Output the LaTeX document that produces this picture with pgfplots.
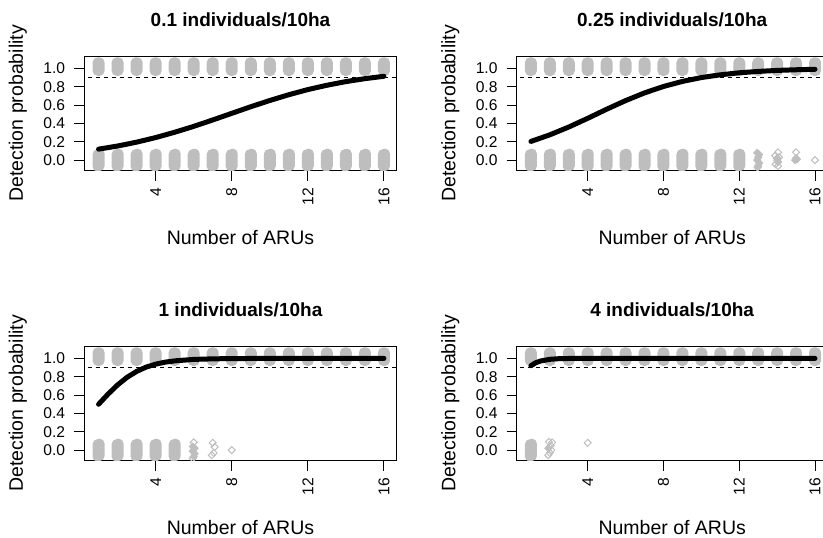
\documentclass[border=0pt]{standalone}
\usepackage{fontspec}
\setmainfont{Liberation Sans}
\usepackage{pgfplots}
\pgfplotsset{compat=1.18}

\definecolor{rgray}{RGB}{190,190,190}

% dense cloud of outcomes at one ARU count, drawn as a pill
% (lower level, y = 0): spans -11.5pt .. 11.5pt around the point
\pgfdeclareplotmark{bloblo}{%
  \pgfpathmoveto{\pgfqpoint{-6pt}{6pt}}%
  \pgfpatharc{180}{90}{5pt}%
  \pgfpathlineto{\pgfqpoint{1pt}{11.5pt}}%
  \pgfpatharc{90}{0}{5pt}%
  \pgfpathlineto{\pgfqpoint{6pt}{-6pt}}%
  \pgfpatharc{0}{-90}{5pt}%
  \pgfpathlineto{\pgfqpoint{-1pt}{-11.5pt}}%
  \pgfpatharc{-90}{-180}{5pt}%
  \pgfpathclose
  \pgfusepathqfill}
% upper level, y = 1: spans -7.5pt .. 11pt around the point
\pgfdeclareplotmark{blobhi}{%
  \pgfpathmoveto{\pgfqpoint{-6pt}{6pt}}%
  \pgfpatharc{180}{90}{5pt}%
  \pgfpathlineto{\pgfqpoint{1pt}{11pt}}%
  \pgfpatharc{90}{0}{5pt}%
  \pgfpathlineto{\pgfqpoint{6pt}{-2.5pt}}%
  \pgfpatharc{0}{-90}{5pt}%
  \pgfpathlineto{\pgfqpoint{-1pt}{-7.5pt}}%
  \pgfpatharc{-90}{-180}{5pt}%
  \pgfpathclose
  \pgfusepathqfill}
% open square diamond (R pch 5)
\pgfdeclareplotmark{rdiamond}{%
  \pgfpathmoveto{\pgfqpoint{0pt}{\pgfplotmarksize}}%
  \pgfpathlineto{\pgfqpoint{\pgfplotmarksize}{0pt}}%
  \pgfpathlineto{\pgfqpoint{0pt}{-\pgfplotmarksize}}%
  \pgfpathlineto{\pgfqpoint{-\pgfplotmarksize}{0pt}}%
  \pgfpathclose
  \pgfusepathqstroke}
\pgfdeclareplotmark{rdiamond*}{%
  \pgfpathmoveto{\pgfqpoint{0pt}{\pgfplotmarksize}}%
  \pgfpathlineto{\pgfqpoint{\pgfplotmarksize}{0pt}}%
  \pgfpathlineto{\pgfqpoint{0pt}{-\pgfplotmarksize}}%
  \pgfpathlineto{\pgfqpoint{-\pgfplotmarksize}{0pt}}%
  \pgfpathclose
  \pgfusepathqfillstroke}

\pgfplotsset{
  panel/.style={
    scale only axis, width=312.4pt, height=114.7pt,
    anchor=south west,
    xmin=0.25, xmax=16.67, ymin=-0.115, ymax=1.135,
    xtick={4,8,12,16}, xticklabels={4,8,12,16},
    ytick={0,0.2,0.4,0.6,0.8,1}, yticklabels={0.0,0.2,0.4,0.6,0.8,1.0},
    xtick pos=bottom, ytick pos=left,
    tick align=outside, major tick length=10pt,
    axis line style={line width=1pt},
    every tick/.style={black, line width=1pt},
    tick label style={font=\fontsize{15.6}{18}\selectfont, inner sep=0pt},
    xticklabel style={rotate=90, anchor=east},
    yticklabel style={anchor=east},
    xticklabel shift=7pt, yticklabel shift=9pt,
    clip=true, clip marker paths=true,
  },
  rightpanel/.style={panel, width=311pt},
  hiblobs/.style={only marks, color=rgray, mark=blobhi, mark options={fill=rgray}},
  loblobs/.style={only marks, color=rgray, mark=bloblo, mark options={fill=rgray}},
  opend/.style={only marks, color=rgray, mark=rdiamond, mark size=3.5pt, mark options={line width=1pt}},
  filld/.style={only marks, color=rgray, mark=rdiamond*, mark size=3.5pt, mark options={line width=1pt, fill=rgray}},
  thresh/.style={black, line width=1pt, dash pattern=on 4.5pt off 3.5pt, no marks},
  fit/.style={black, line width=5pt, line cap=round, line join=round, no marks},
}

\tikzset{
  ttl/.style={font=\fontsize{19}{22}\selectfont\bfseries, anchor=base},
  lbl/.style={font=\fontsize{19.5}{22}\selectfont, anchor=base},
}

\begin{document}
\begin{tikzpicture}

% ---- 0.1 individuals/10ha ----
\begin{axis}[panel, at={(84.3pt,-170.7pt)}]
  \addplot[hiblobs] coordinates {(1,1)(2,1)(3,1)(4,1)(5,1)(6,1)(7,1)(8,1)(9,1)(10,1)(11,1)(12,1)(13,1)(14,1)(15,1)(16,1)};
  \addplot[loblobs] coordinates {(1,0)(2,0)(3,0)(4,0)(5,0)(6,0)(7,0)(8,0)(9,0)(10,0)(11,0)(12,0)(13,0)(14,0)(15,0)(16,0)};
  \addplot[thresh] coordinates {(0,0.9)(17,0.9)};
  \addplot[fit] coordinates {(1,0.120)(2,0.154)(3,0.196)(4,0.246)(5,0.304)(6,0.368)(7,0.438)(8,0.510)(9,0.582)(10,0.650)(11,0.713)(12,0.769)(13,0.816)(14,0.856)(15,0.888)(16,0.914)};
\end{axis}

% ---- 0.25 individuals/10ha ----
\begin{axis}[rightpanel, at={(516.7pt,-170.7pt)}]
  \addplot[hiblobs] coordinates {(1,1)(2,1)(3,1)(4,1)(5,1)(6,1)(7,1)(8,1)(9,1)(10,1)(11,1)(12,1)(13,1)(14,1)(15,1)(16,1)};
  \addplot[loblobs] coordinates {(1,0)(2,0)(3,0)(4,0)(5,0)(6,0)(7,0)(8,0)(9,0)(10,0)(11,0)(12,0)};
  \addplot[filld] coordinates {(12.95,0.08)(13.05,0.06)(13.0,0.03)(12.95,0.0)(13.05,-0.03)(13.0,-0.06)(12.97,-0.08)(14.0,0.02)(14.05,-0.02)(15.0,0.02)(14.95,0.0)(15.05,0.01)};
  \addplot[opend] coordinates {(14.05,0.085)(13.9,0.05)(14.1,0.03)(14.0,0.0)(13.92,-0.045)(14.05,-0.065)(15.0,0.085)(16,0.0)};
  \addplot[thresh] coordinates {(0,0.9)(17,0.9)};
  \addplot[fit] coordinates {(1,0.204)(2,0.276)(3,0.361)(4,0.456)(5,0.555)(6,0.649)(7,0.733)(8,0.803)(9,0.858)(10,0.900)(11,0.930)(12,0.952)(13,0.967)(14,0.978)(15,0.985)(16,0.990)};
\end{axis}

% ---- 1 individuals/10ha ----
\begin{axis}[panel, at={(84.3pt,-460.7pt)}]
  \addplot[hiblobs] coordinates {(1,1)(2,1)(3,1)(4,1)(5,1)(6,1)(7,1)(8,1)(9,1)(10,1)(11,1)(12,1)(13,1)(14,1)(15,1)(16,1)};
  \addplot[loblobs] coordinates {(1,0)(2,0)(3,0)(4,0)(5,0)};
  \addplot[filld] coordinates {(5.95,0.04)(6.05,0.02)(5.95,-0.01)(6.05,-0.04)(6.0,-0.07)};
  \addplot[opend] coordinates {(6.0,0.085)(5.95,-0.09)(7.0,0.08)(7.1,0.035)(7.05,-0.03)(6.95,-0.055)(8,0.0)};
  \addplot[thresh] coordinates {(0,0.9)(17,0.9)};
  \addplot[fit] coordinates {(1,0.500)(1.5,0.611)(2,0.711)(2.5,0.794)(3,0.858)(3.5,0.905)(4,0.937)(4.5,0.959)(5,0.973)(6,0.989)(7,0.995)(8,0.998)(10,1.0)(12,1.0)(14,1.0)(16,1.0)};
\end{axis}

% ---- 4 individuals/10ha ----
\begin{axis}[rightpanel, at={(516.7pt,-460.7pt)}]
  \addplot[hiblobs] coordinates {(1,1)(2,1)(3,1)(4,1)(5,1)(6,1)(7,1)(8,1)(9,1)(10,1)(11,1)(12,1)(13,1)(14,1)(15,1)(16,1)};
  \addplot[loblobs] coordinates {(1,0)};
  \addplot[filld] coordinates {(1.92,0.02)};
  \addplot[opend] coordinates {(1.95,0.09)(2.12,0.085)(2.05,0.05)(2.08,0.0)(2.0,-0.03)(1.92,-0.055)(4,0.08)};
  \addplot[thresh] coordinates {(0,0.9)(17,0.9)};
  \addplot[fit] coordinates {(1,0.920)(1.25,0.952)(1.5,0.971)(2,0.990)(2.5,0.997)(3,0.999)(4,1.0)(8,1.0)(12,1.0)(16,1.0)};
\end{axis}

% titles and axis labels
\node[ttl] at (240.5pt,-26.5pt) {0.1 individuals/10ha};
\node[ttl] at (672.2pt,-26.5pt) {0.25 individuals/10ha};
\node[ttl] at (240.5pt,-316.5pt) {1 individuals/10ha};
\node[ttl] at (672.2pt,-316.5pt) {4 individuals/10ha};

\node[lbl] at (240.5pt,-244pt) {Number of ARUs};
\node[lbl] at (672.2pt,-244pt) {Number of ARUs};
\node[lbl] at (240.5pt,-534pt) {Number of ARUs};
\node[lbl] at (672.2pt,-534pt) {Number of ARUs};

\node[lbl, rotate=90] at (23pt,-113.4pt) {Detection probability};
\node[lbl, rotate=90] at (455.4pt,-113.4pt) {Detection probability};
\node[lbl, rotate=90] at (23pt,-403.4pt) {Detection probability};
\node[lbl, rotate=90] at (455.4pt,-403.4pt) {Detection probability};

\pgfresetboundingbox
\useasboundingbox (0,0) rectangle (823pt,-538pt);
\end{tikzpicture}
\end{document}
